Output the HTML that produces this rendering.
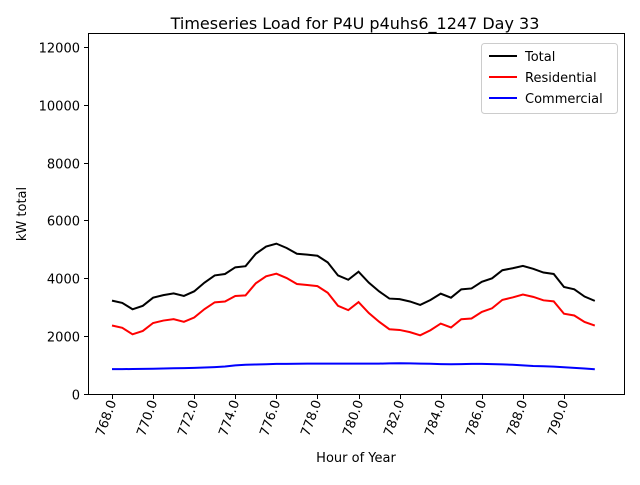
<!DOCTYPE html>
<html><head><meta charset="utf-8"><style>
body{margin:0;background:#fff}
svg text{font-family:"DejaVu Sans","Liberation Sans",sans-serif}
</style></head><body>
<svg id="chart" width="640" height="480">
<rect width="640" height="480" fill="#fff"/>
<text x="355" y="29" font-size="16" text-anchor="middle">Timeseries Load for P4U p4uhs6_1247  Day 33</text>
<g id="axes"></g>
<g id="lines"></g>
<rect x="88.5" y="33.5" width="536" height="361" fill="none" stroke="#000" stroke-width="1"/>
<g>
<rect x="481.5" y="43.5" width="136" height="70" rx="3" fill="#fff" stroke="#ccc"/>
<line x1="489" y1="56" x2="517" y2="56" stroke="#000" stroke-width="2"/>
<text x="525" y="61" font-size="13">Total</text>
<line x1="489" y1="77" x2="517" y2="77" stroke="red" stroke-width="2"/>
<text x="525" y="82" font-size="13">Residential</text>
<line x1="489" y1="98" x2="517" y2="98" stroke="blue" stroke-width="2"/>
<text x="525" y="103" font-size="13">Commercial</text>
</g>
<text x="356" y="462" font-size="13" text-anchor="middle">Hour of Year</text>
<text transform="translate(26,214) rotate(-90)" font-size="13" text-anchor="middle">kW total</text>
</svg>
<script>
const hours=[768,768.5,769,769.5,770,770.5,771,771.5,772,772.5,773,773.5,774,774.5,775,775.5,776,776.5,777,777.5,778,778.5,779,779.5,780,780.5,781,781.5,782,782.5,783,783.5,784,784.5,785,785.5,786,786.5,787,787.5,788,788.5,789,789.5,790,790.5,791,791.5];
const total=[3230,3150,2930,3050,3330,3420,3480,3390,3550,3850,4100,4150,4380,4420,4850,5100,5200,5050,4850,4820,4780,4550,4100,3950,4230,3850,3550,3300,3280,3200,3080,3250,3470,3330,3620,3650,3880,4000,4280,4350,4430,4330,4200,4150,3700,3620,3370,3220];
const commercial=[860,860,865,870,875,880,890,895,905,915,930,950,990,1010,1020,1030,1040,1040,1045,1050,1050,1050,1050,1050,1050,1050,1050,1060,1065,1060,1050,1045,1035,1030,1035,1040,1040,1035,1025,1010,990,970,960,945,925,905,880,855];
const residential=[2370,2290,2065,2180,2455,2540,2590,2495,2645,2935,3170,3200,3390,3410,3830,4070,4160,4010,3805,3770,3730,3500,3050,2900,3180,2800,2500,2240,2215,2140,2030,2205,2435,2300,2585,2610,2840,2965,3255,3340,3440,3360,3240,3205,2775,2715,2490,2365];
const xTicks=[768,770,772,774,776,778,780,782,784,786,788,790];
const yTicks=[0,2000,4000,6000,8000,10000,12000];
const NS="http://www.w3.org/2000/svg";
const X=h=>112+(h-768)*20.545;
const Y=v=>394-v*0.028917;
const axes=document.getElementById('axes');
function mk(tag,attrs,parent){const e=document.createElementNS(NS,tag);for(const k in attrs)e.setAttribute(k,attrs[k]);parent.appendChild(e);return e;}
yTicks.forEach(v=>{
  const y=Math.round(Y(v))+0.5;
  mk('line',{x1:84,y1:y,x2:88,y2:y,stroke:'#000'},axes);
  const t=mk('text',{x:80,y:y+5,'font-size':13,'text-anchor':'end'},axes);
  t.textContent=v;
  
  
});
xTicks.forEach(h=>{
  const x=Math.round(X(h))+0.5;
  mk('line',{x1:x,y1:395,x2:x,y2:399,stroke:'#000'},axes);
  const t=mk('text',{transform:`translate(${x+4},402) rotate(-70)`,'font-size':13,'text-anchor':'end'},axes);
  t.textContent=h.toFixed(1);
  
  
});
const lines=document.getElementById('lines');
[[total,'#000','total-line'],[residential,'red','residential-line'],[commercial,'blue','commercial-line']].forEach(([d,c,n])=>{
  const p=mk('polyline',{points:d.map((v,i)=>X(hours[i])+','+Y(v)).join(' '),fill:'none',stroke:c,'stroke-width':2},lines);
  
  
});
</script>
</body></html>
